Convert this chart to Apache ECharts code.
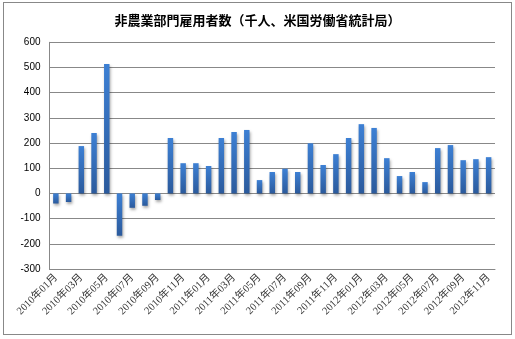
<!DOCTYPE html>
<html>
<head>
<meta charset="utf-8">
<script src="https://cdn.jsdelivr.net/npm/echarts@6/dist/echarts.min.js"></script>
<style>
  html, body { margin: 0; padding: 0; background: #fff; }
  #frame { position: absolute; left: 3px; top: 2px; width: 507px; height: 331px; border: 1px solid #888; box-sizing: content-box; }
  #chart { position: absolute; left: 0; top: 0; width: 515px; height: 339px; }
</style>
</head>
<body>
<div id="frame"></div>
<div id="chart"></div>
<script>
// Nonfarm payroll change by month, thousands
const months = [
  '2010年01月','2010年02月','2010年03月','2010年04月','2010年05月','2010年06月',
  '2010年07月','2010年08月','2010年09月','2010年10月','2010年11月','2010年12月',
  '2011年01月','2011年02月','2011年03月','2011年04月','2011年05月','2011年06月',
  '2011年07月','2011年08月','2011年09月','2011年10月','2011年11月','2011年12月',
  '2012年01月','2012年02月','2012年03月','2012年04月','2012年05月','2012年06月',
  '2012年07月','2012年08月','2012年09月','2012年10月','2012年11月'
];
const payrolls = [
  -40, -34, 188, 240, 514, -168, -57, -49, -26, 220, 120, 120,
  109, 220, 244, 252, 53, 85, 98, 85, 199, 113, 156, 220,
  275, 260, 140, 69, 85, 45, 180, 192, 132, 136, 144
];
const yTicks = { min: -300, max: 600, step: 100 };

const chart = echarts.init(document.getElementById('chart'));
chart.setOption({
  animation: false,
  title: {
    text: '非農業部門雇用者数（千人、米国労働省統計局）',
    left: 'center',
    top: 9,
    textStyle: { fontSize: 13, fontWeight: 'bold', color: '#000', fontFamily: 'Noto Sans CJK JP' }
  },
  grid: { left: 49.5, right: 20, top: 42.3, bottom: 70 },
  xAxis: {
    type: 'category',
    data: months,
    axisLine: { show: true, onZero: false, lineStyle: { color: '#888', width: 1 } },
    axisTick: { show: false },
    axisLabel: {
      interval: 1,
      rotate: 45,
      margin: 7,
      fontSize: 10.5,
      color: '#333',
      fontFamily: 'Liberation Serif, Noto Sans CJK JP'
    }
  },
  yAxis: {
    type: 'value',
    min: yTicks.min,
    max: yTicks.max,
    interval: yTicks.step,
    axisLine: { show: true, lineStyle: { color: '#888', width: 1 } },
    axisTick: { show: false },
    axisLabel: { fontSize: 10, color: '#000', margin: 9, fontFamily: 'Liberation Sans, Arial' },
    splitLine: { show: true, lineStyle: { color: '#888', width: 1 } }
  },
  series: [{
    type: 'bar',
    data: payrolls,
    barWidth: '43%',
    itemStyle: {
      color: new echarts.graphic.LinearGradient(0, 0, 0, 1, [
        { offset: 0, color: '#3d80d4' },
        { offset: 1, color: '#2b5a9c' }
      ]),
      shadowColor: 'rgba(0,0,0,0.35)',
      shadowBlur: 3,
      shadowOffsetX: 1,
      shadowOffsetY: 2
    }
  }]
});
</script>
</body>
</html>
